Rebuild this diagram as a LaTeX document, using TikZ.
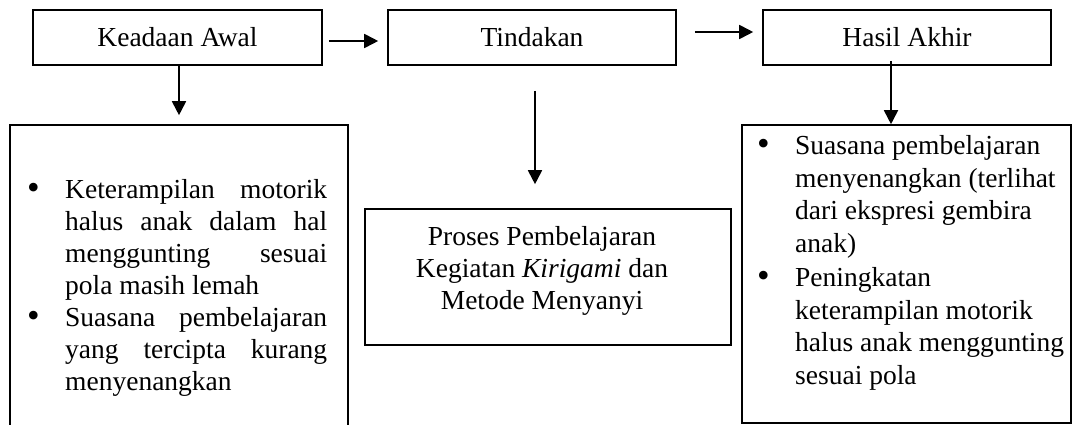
\documentclass[tikz,border=0pt]{standalone}
\usepackage{fontspec}
\setmainfont{Liberation Serif}
\usetikzlibrary{arrows.meta}
\newcommand{\bulitem}{\noindent\llap{\makebox[38pt][l]{\raisebox{-1.5pt}{\fontsize{36pt}{0pt}\selectfont •}}}}
\tikzset{
  box/.style={draw, line width=1.6pt, rectangle, inner sep=0pt},
  txt/.style={inner sep=0pt},
  arr/.style={line width=1.8pt, -{Triangle[length=14pt,width=14pt]}}
}
\begin{document}
\begin{tikzpicture}[x=1pt, y=-1pt, font=\fontsize{27.5pt}{32pt}\selectfont]
\useasboundingbox (0,0) rectangle (1079,425);
\clip (0,0) rectangle (1079,425);
% top boxes
\node[box, minimum width=289pt, minimum height=55pt] (k) at (177.5,37.5) {Keadaan Awal};
\node[box, minimum width=288pt, minimum height=55pt] (t) at (532,37.5) {Tindakan};
\node[box, minimum width=288pt, minimum height=55pt] (h) at (907,37.5) {Hasil Akhir};
% lower boxes
\node[box, minimum width=338pt, minimum height=335pt] (ll) at (179,292.5) {};
\node[box, minimum width=366pt, minimum height=136pt] (p) at (548,277) {};
\node[box, minimum width=329pt, minimum height=298pt] (lr) at (906.5,274) {};
% texts
\node[txt, anchor=base west] (lltext) at (65,198) {\parbox[t]{262pt}{\hyphenpenalty=10000\parindent=0pt
\bulitem Keterampilan motorik\linebreak halus anak dalam hal\linebreak menggunting sesuai\linebreak pola masih lemah\par
\bulitem Suasana pembelajaran\linebreak yang tercipta kurang\linebreak menyenangkan}};
\node[txt, anchor=base] (ptext) at (542,245) {\parbox[t]{360pt}{\centering Proses Pembelajaran\\ Kegiatan \textit{Kirigami} dan\\ Metode Menyanyi}};
\node[txt, anchor=base west] (lrtext) at (795,154) {\parbox[t]{280pt}{\fontsize{27.5pt}{33pt}\selectfont\raggedright\parindent=0pt
\bulitem Suasana pembelajaran\\ menyenangkan (terlihat\\ dari ekspresi gembira\\ anak)\par
\bulitem Peningkatan\\ keterampilan motorik\\ halus anak menggunting\\ sesuai pola}};
% connectors
\draw[arr] ([xshift=6pt,yshift=-3.5pt]k.east) -- ([xshift=-9pt,yshift=-3.5pt]t.west);
\draw[arr] ([xshift=18pt,yshift=5.5pt]t.east) -- ([xshift=-9pt,yshift=5.5pt]h.west);
\draw[arr] ([xshift=1.5pt]k.south) -- ([yshift=9pt]ll.north);
\draw[arr] ([xshift=3pt,yshift=-25pt]t.south) -- ([xshift=-13pt,yshift=24pt]p.north);
\draw[arr] ([xshift=-16pt,yshift=5pt]h.south) -- ([xshift=-15.5pt]lr.north);
\end{tikzpicture}
\end{document}
